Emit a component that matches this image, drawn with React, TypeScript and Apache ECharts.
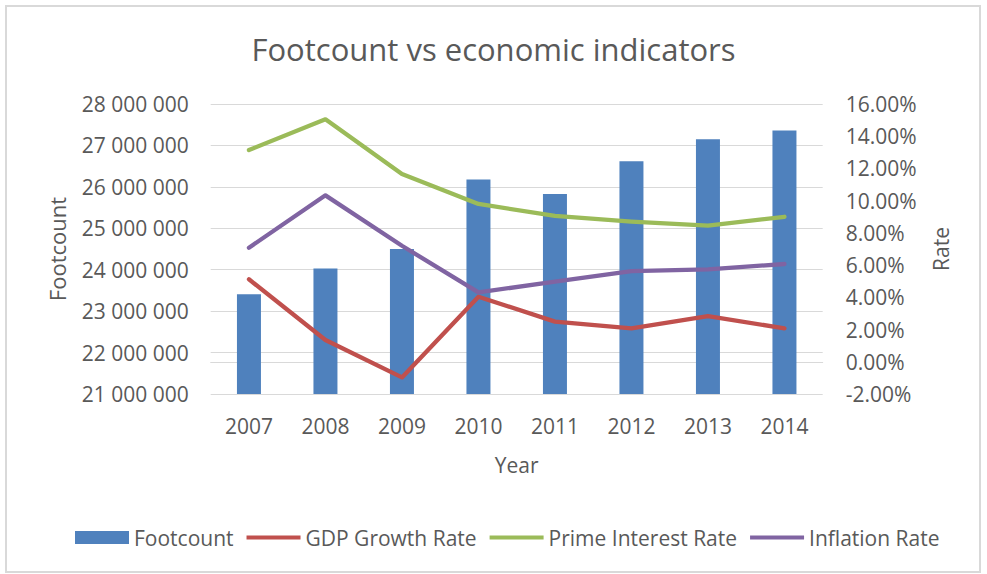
import React, { useEffect, useRef } from "react";
import * as echarts from "echarts";

const years = ["2007", "2008", "2009", "2010", "2011", "2012", "2013", "2014"];
const footcount = [23410000, 24030000, 24500000, 26180000, 25830000, 26620000, 27150000, 27360000];
const gdpGrowth = [5.12, 1.35, -0.97, 4.04, 2.49, 2.07, 2.84, 2.07];
const primeRate = [13.14, 15.05, 11.65, 9.8, 9.05, 8.7, 8.45, 9.0];
const inflation = [7.08, 10.33, 7.2, 4.31, 4.97, 5.63, 5.74, 6.07];

const FONT = "'Open Sans', 'Noto Sans', sans-serif";
const TXT = "#595959";
const GRID = "#d9d9d9";
const LINE_ICON = "path://M0,0 L56,0 L56,4 L0,4 Z";

export default function App() {
  const ref = useRef<HTMLDivElement>(null);
  useEffect(() => {
    if (!ref.current) return;
    const chart = echarts.init(ref.current, null, { renderer: "svg" });
    chart.setOption({
      animation: false,
      backgroundColor: "#ffffff",
      textStyle: { fontFamily: FONT, color: TXT },
      title: {
        text: "Footcount vs economic indicators",
        left: "center",
        top: 28,
        textStyle: { fontFamily: FONT, fontSize: 31, fontWeight: "normal", color: TXT },
      },
      graphic: [
        {
          type: "rect",
          shape: { x: 6, y: 6, width: 974, height: 566 },
          style: { fill: "none", stroke: GRID, lineWidth: 2 },
          silent: true,
        },
      ],
      legend: {
        left: 70,
        top: 522,
        itemWidth: 54,
        itemHeight: 13,
        itemGap: 13,
        textStyle: { fontFamily: FONT, fontSize: 21, color: TXT },
        data: [
          { name: "Footcount", icon: "rect" },
          { name: "GDP Growth Rate", icon: LINE_ICON },
          { name: "Prime Interest Rate", icon: LINE_ICON },
          { name: "Inflation Rate", icon: LINE_ICON },
        ],
      },
      grid: { left: 210.7, right: 164.3, top: 104, bottom: 180, containLabel: false },
      xAxis: {
        type: "category",
        data: years,
        name: "Year",
        nameLocation: "middle",
        nameGap: 60,
        nameTextStyle: { fontFamily: FONT, fontSize: 21, color: TXT },
        axisLine: { show: true, lineStyle: { color: GRID, width: 1 } },
        axisTick: { show: false },
        axisLabel: { margin: 21, fontFamily: FONT, fontSize: 21, color: TXT },
      },
      yAxis: [
        {
          type: "value",
          min: 21000000,
          max: 28000000,
          interval: 1000000,
          name: "Footcount",
          nameLocation: "middle",
          nameGap: 143,
          nameRotate: 90,
          nameTextStyle: { fontFamily: FONT, fontSize: 22, color: TXT },
          axisLine: { show: false },
          axisTick: { show: false },
          splitLine: { show: true, lineStyle: { color: GRID, width: 1 } },
          axisLabel: {
            margin: 22,
            fontFamily: FONT,
            fontSize: 21,
            color: TXT,
            formatter: (v: number) => String(Math.round(v)).replace(/\B(?=(\d{3})+(?!\d))/g, " "),
          },
        },
        {
          type: "value",
          min: -2,
          max: 16,
          interval: 2,
          position: "right",
          name: "Rate",
          nameLocation: "middle",
          nameGap: 108,
          nameRotate: 90,
          nameTextStyle: { fontFamily: FONT, fontSize: 21, color: TXT },
          axisLine: { show: false },
          axisTick: { show: false },
          splitLine: { show: false },
          axisLabel: {
            margin: 23,
            fontFamily: FONT,
            fontSize: 21,
            color: TXT,
            formatter: (v: number) => v.toFixed(2) + "%",
          },
        },
      ],
      series: [
        {
          name: "Footcount",
          type: "bar",
          yAxisIndex: 0,
          data: footcount,
          barWidth: 24,
          itemStyle: { color: "#4f81bd" },
        },
        {
          name: "GDP Growth Rate",
          type: "line",
          yAxisIndex: 1,
          data: gdpGrowth,
          symbol: "none",
          lineStyle: { color: "#c0504d", width: 4.3, cap: "round", join: "round" },
          itemStyle: { color: "#c0504d" },
        },
        {
          name: "Prime Interest Rate",
          type: "line",
          yAxisIndex: 1,
          data: primeRate,
          symbol: "none",
          lineStyle: { color: "#9bbb59", width: 4.3, cap: "round", join: "round" },
          itemStyle: { color: "#9bbb59" },
        },
        {
          name: "Inflation Rate",
          type: "line",
          yAxisIndex: 1,
          data: inflation,
          symbol: "none",
          lineStyle: { color: "#8064a2", width: 4.3, cap: "round", join: "round" },
          itemStyle: { color: "#8064a2" },
        },
      ],
    });
    return () => chart.dispose();
  }, []);
  return (
    <div
      ref={ref}
      style={{ position: "fixed", left: 0, top: 0, width: 987, height: 574, background: "#fff" }}
    />
  );
}
